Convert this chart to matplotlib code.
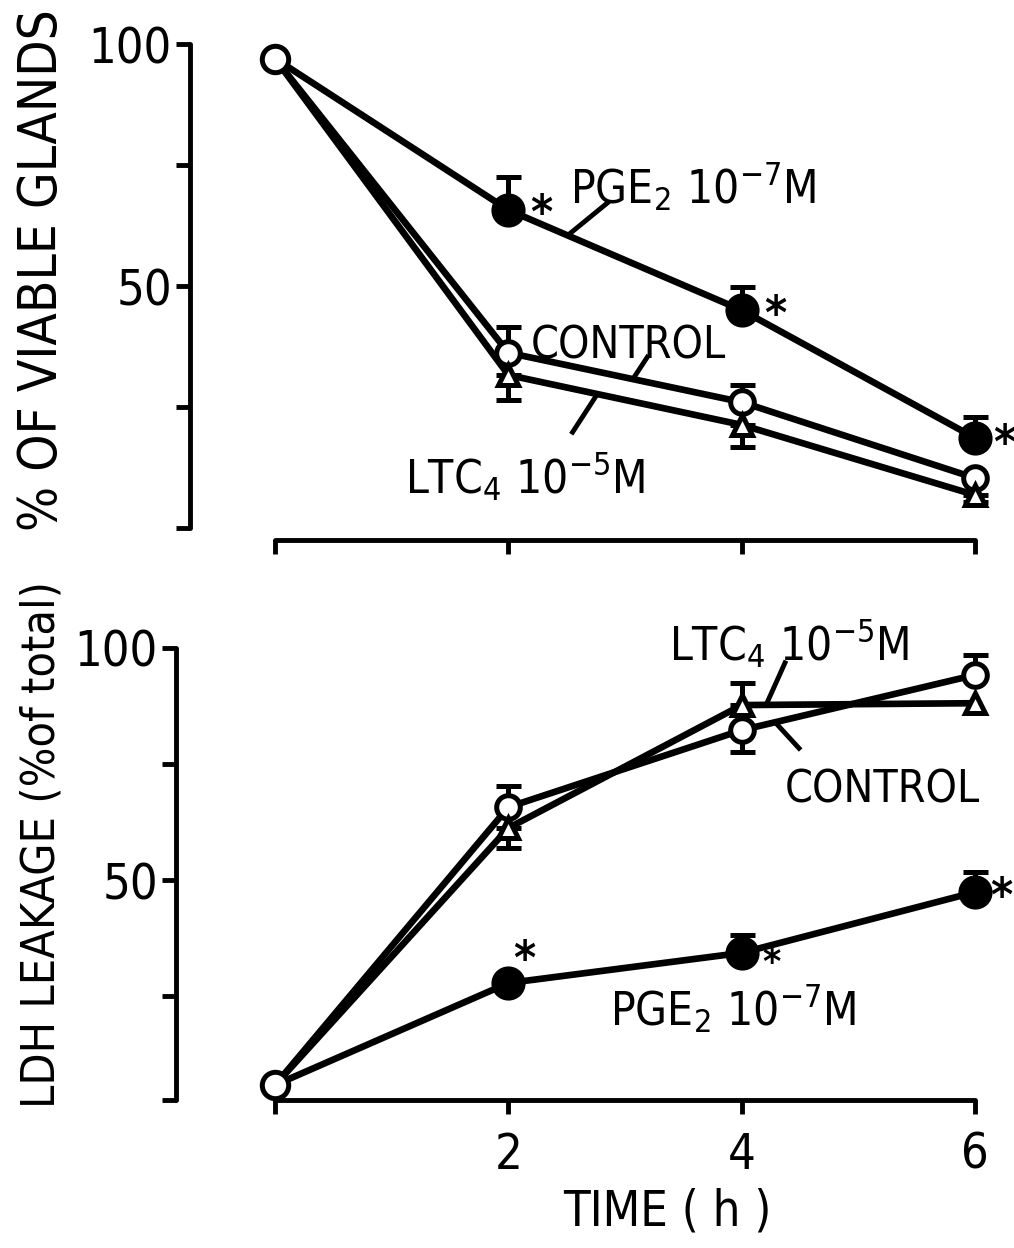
import matplotlib
matplotlib.use("Agg")
import matplotlib.pyplot as plt

# ---------------- data ----------------
time_h = [0, 2, 4, 6]

# top panel: % of viable glands
viable_control = [97.0, 36.2, 26.0, 10.3]
viable_ltc4 = [97.0, 31.6, 21.3, 6.8]
viable_pge2 = [97.0, 65.7, 45.0, 18.6]
viable_control_err_up = [0, 5.3, 3.5, 0]
viable_ltc4_err_down = [0, 5.2, 4.6, 1.5]
viable_pge2_err_up = [0, 6.8, 4.8, 4.3]

# bottom panel: LDH leakage (% of total)
ldh_control = [5.8, 65.7, 82.3, 94.2]
ldh_ltc4 = [5.8, 61.2, 87.7, 88.1]
ldh_pge2 = [5.8, 27.8, 34.3, 47.4]
ldh_control_err_up = [0, 4.6, 0, 4.3]
ldh_control_err_down = [0, 0, 4.7, 0]
ldh_ltc4_err_up = [0, 0, 4.8, 0]
ldh_ltc4_err_down = [0, 4.3, 0, 0]
ldh_pge2_err_up = [0, 0, 3.8, 4.3]

x_ticks = [0, 2, 4, 6]
x_ticklabels = ["", "2", "4", "6"]
y_ticklabels = ["", "", "50", "", "100"]

# ---------------- style ----------------
FONT = ["DejaVu Sans"]
plt.rcParams["font.family"] = FONT
plt.rcParams["font.stretch"] = "condensed"

W, H = 1014, 1248
fig = plt.figure(figsize=(W / 100, H / 100), dpi=100)
fig.patch.set_facecolor("white")

LW = 4.8
ELW = 3.6


def make_axes(px_left, px_right, px_top, px_bottom, xlim, ylim):
    ax = fig.add_axes([px_left / W, 1 - px_bottom / H,
                       (px_right - px_left) / W, (px_bottom - px_top) / H])
    ax.set_xlim(*xlim)
    ax.set_ylim(*ylim)
    ax.patch.set_alpha(0)
    for s in ("top", "right"):
        ax.spines[s].set_visible(False)
    for s in ("left", "bottom"):
        ax.spines[s].set_linewidth(3.5)
        ax.spines[s].set_capstyle("round")
    ax.tick_params(width=3.5, length=10, direction="out", labelsize=35, pad=3)
    return ax


def series(ax, y, marker, face, ms, up=None, down=None, z=3):
    ax.plot(time_h, y, color="black", lw=LW, zorder=z, solid_capstyle="round")
    for i, t in enumerate(time_h):
        u = up[i] if up else 0
        d = down[i] if down else 0
        if u or d:
            ax.errorbar([t], [y[i]], yerr=[[d], [u]], fmt="none", ecolor="black",
                        elinewidth=ELW, capsize=9, capthick=ELW, zorder=z + 1)
    ax.plot(time_h[1:], y[1:], ls="none", marker=marker, ms=ms, mfc=face,
            mec="black", mew=3.6, zorder=z + 2)


def star(ax, x, y, size=34):
    ax.text(x, y, "*", fontsize=size, fontweight="bold", ha="center",
            va="center", zorder=6)


# ---------------- top panel ----------------
PX0 = 275.0
PXU = 116.7
ax1 = make_axes(190, 1010, 29.5, 540,
                ((190 - PX0) / PXU, (1010 - PX0) / PXU),
                ((528 - 540) / 4.84, (528 - 29.5) / 4.84))
series(ax1, viable_control, "o", "white", 17, up=viable_control_err_up, z=3)
series(ax1, viable_ltc4, "^", "white", 15, down=viable_ltc4_err_down, z=3)
series(ax1, viable_pge2, "o", "black", 21, up=viable_pge2_err_up, z=3)
ax1.plot([time_h[0]], [viable_control[0]], ls="none", marker="o", ms=19,
         mfc="white", mec="black", mew=3.6, zorder=8)
ax1.spines["left"].set_bounds(0, 100)
ax1.spines["bottom"].set_bounds(0, 6)
ax1.set_xticks(x_ticks)
ax1.set_xticklabels([""] * 4)
ax1.set_yticks([0, 25, 50, 75, 100])
ax1.set_yticklabels(y_ticklabels)

ax1.text(2.53, 67.1, r"PGE$_2$ 10$^{-7}$M", fontsize=33, ha="left", va="baseline")
ax1.text(2.19, 35.1, "CONTROL", fontsize=32, ha="left", va="baseline")
ax1.text(1.11, 7.2, r"LTC$_4$ 10$^{-5}$M", fontsize=33, ha="left", va="baseline")
ax1.plot([2.845, 2.51], [67.1, 60.5], color="black", lw=3.5, zorder=2)
ax1.plot([3.19, 3.07], [35.3, 30.9], color="black", lw=3.5, zorder=2)
ax1.plot([2.76, 2.55], [27.6, 19.8], color="black", lw=3.5, zorder=2)
star(ax1, 2.28, 64.5)
star(ax1, 4.29, 43.8)
star(ax1, 6.25, 17.0)

# ---------------- bottom panel ----------------
ax2 = make_axes(176, 1010, 634, 1100,
                ((176 - PX0) / PXU, (1010 - PX0) / PXU),
                ((1112 - 1100) / 4.64, (1112 - 634) / 4.64))
series(ax2, ldh_control, "o", "white", 17, up=ldh_control_err_up,
       down=ldh_control_err_down, z=3)
series(ax2, ldh_ltc4, "^", "white", 15, up=ldh_ltc4_err_up,
       down=ldh_ltc4_err_down, z=3)
series(ax2, ldh_pge2, "o", "black", 21, up=ldh_pge2_err_up, z=3)
ax2.plot([time_h[0]], [ldh_control[0]], ls="none", marker="o", ms=19,
         mfc="white", mec="black", mew=3.6, zorder=8)
y0b = (1112 - 1100) / 4.64
ax2.spines["left"].set_bounds(y0b, 100)
ax2.spines["bottom"].set_bounds(0, 6)
ax2.set_xticks(x_ticks)
ax2.set_xticklabels(x_ticklabels)
ax2.tick_params(axis="x", pad=12)
ax2.set_yticks([y0b, 25, 50, 75, 100])
ax2.set_yticklabels(y_ticklabels)

ax2.text(3.38, 97.4, r"LTC$_4$ 10$^{-5}$M", fontsize=33, ha="left", va="baseline")
ax2.text(4.37, 66.6, "CONTROL", fontsize=32, ha="left", va="baseline")
ax2.text(2.87, 18.6, r"PGE$_2$ 10$^{-7}$M", fontsize=33, ha="left", va="baseline")
ax2.plot([4.37, 4.22], [96.8, 88.4], color="black", lw=3.5, zorder=2)
ax2.plot([4.30, 4.49], [83.6, 78.4], color="black", lw=3.5, zorder=2)
star(ax2, 2.14, 32.5)
star(ax2, 4.25, 31.8, size=28)
star(ax2, 6.22, 46.0)

# axis titles
fig.text(42 / W, 1 - 270 / H, "% OF VIABLE GLANDS", rotation=90, fontsize=38,
         ha="center", va="center")
fig.text(42 / W, 1 - 845 / H, "LDH LEAKAGE (%of total)", rotation=90,
         fontsize=33.5, ha="center", va="center")
fig.text(667 / W, 1 - 1212 / H, "TIME ( h )", fontsize=35, ha="center",
         va="center")

fig.savefig("out.png", dpi=100, facecolor="white")
